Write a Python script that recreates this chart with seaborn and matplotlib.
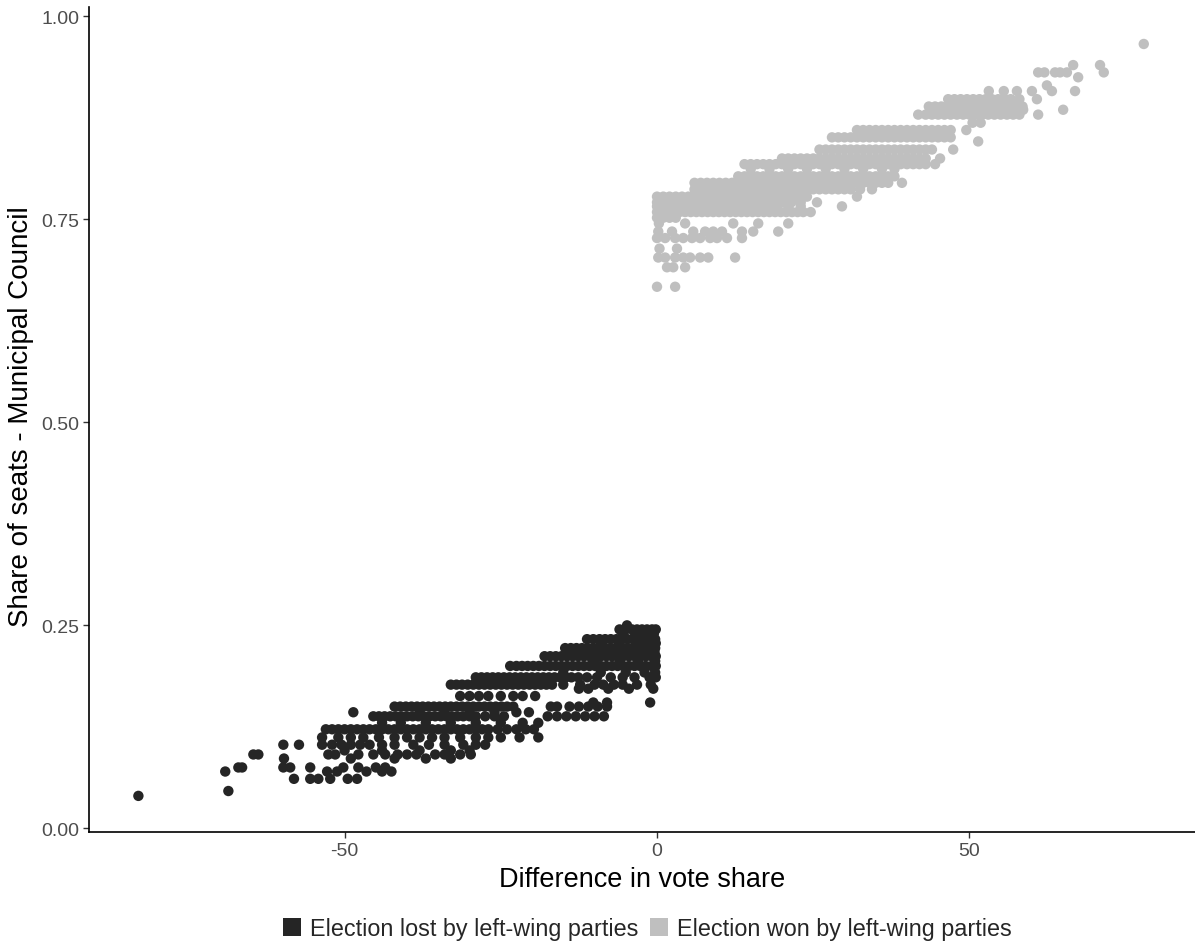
import matplotlib
matplotlib.use("Agg")
import matplotlib.pyplot as plt
import seaborn as sns
import pandas as pd
from matplotlib.patches import Patch

# ---------------- data ----------------
group_labels = ["Election lost by left-wing parties", "Election won by left-wing parties"]
group_colors = ["#252525", "#BFBFBF"]

# Lost elections: seat-share levels and the vote-share differences on each level
lost_levels = [0.250, 0.245, 0.240, 0.233, 0.228, 0.222, 0.217, 0.212, 0.206, 0.200,
               0.192, 0.186, 0.177, 0.172, 0.163, 0.155, 0.150, 0.143, 0.138, 0.130,
               0.122, 0.112, 0.103, 0.096, 0.091, 0.086, 0.075, 0.070, 0.061, 0.046, 0.040]
lost_xs = [
    [-4.8],
    [-6.0, -5.0, -4.0, -3.2, -2.4, -1.6, -0.8, -0.2],
    [-5.5, -3.5, -2.0, -0.5],
    [-11.2, -10.2, -9.2, -8.3, -7.4, -6.5, -5.6, -4.7, -3.8, -2.9, -2.0, -1.1, -0.3],
    [-9.0, -6.0, -3.0, -1.0, -0.2],
    [-14.7, -13.8, -12.9, -12.0, -11.1, -10.2, -9.3, -8.4, -7.5, -6.6, -5.7, -4.8, -3.9,
     -3.0, -2.1, -1.2, -0.3],
    [-8.0, -5.0, -2.5, -0.4],
    [-18.0, -17.1, -16.2, -15.3, -14.4, -13.5, -12.6, -11.7, -10.8, -9.9, -9.0, -8.1, -7.2,
     -6.3, -5.4, -4.5, -3.6, -2.7, -1.8, -0.9, -0.2],
    [-10.0, -6.0, -3.0, -0.3],
    [-23.5, -22.5, -21.6, -20.7, -19.8, -18.9, -18.0, -17.1, -16.2, -15.3, -14.4, -13.5,
     -12.6, -11.7, -10.8, -9.9, -9.0, -8.1, -7.2, -6.3, -5.4, -4.5, -3.6, -2.7, -1.8, -0.9, -0.2],
    [-15.0, -9.0, -5.0, -2.0, -0.3],
    [-29.0, -28.1, -27.2, -26.3, -25.4, -24.5, -23.6, -22.7, -21.8, -20.9, -20.0, -19.1,
     -18.2, -17.3, -16.4, -15.5, -14.6, -13.7, -12.6, -11.2, -9.6, -7.4, -5.5, -3.6, -1.2, -0.2],
    [-33.0, -32.1, -31.2, -30.3, -29.4, -28.5, -27.6, -26.7, -25.8, -24.9, -24.0, -23.1,
     -22.2, -21.3, -20.4, -19.5, -18.6, -17.7, -16.8, -15.0, -12.3, -10.0, -8.6, -6.9, -5.5,
     -3.2, -1.0],
    [-12.5, -11.0, -7.8, -4.5, -0.6],
    [-31.5, -30.0, -28.5, -27.0, -25.0, -23.0, -21.5, -19.5],
    [-10.2, -8.0, -1.1],
    [-42.0, -41.1, -40.2, -39.3, -38.4, -37.5, -36.6, -35.7, -34.8, -33.9, -33.0, -32.1,
     -31.2, -30.3, -29.4, -28.5, -27.6, -26.7, -25.8, -24.9, -24.0, -23.0, -17.0, -16.0,
     -14.0, -12.5, -11.0, -9.5, -8.0],
    [-48.6, -38.0, -34.0, -30.0, -26.0, -22.5, -20.5],
    [-45.4, -44.5, -43.6, -42.7, -41.8, -40.9, -40.0, -39.1, -38.2, -37.3, -36.4, -35.5,
     -34.6, -33.7, -32.8, -31.9, -31.0, -30.0, -29.0, -27.5, -26.0, -24.5, -17.5, -16.0,
     -14.5, -13.0, -11.5, -10.0, -8.5],
    [-44.0, -41.0, -37.0, -33.0, -29.0, -25.0, -21.5, -19.0],
    [-53.0, -52.0, -51.0, -50.0, -49.0, -48.0, -47.0, -46.0, -45.0, -44.0, -43.0, -42.0,
     -41.0, -40.0, -39.0, -38.0, -37.0, -36.0, -35.0, -34.0, -33.0, -32.0, -31.0, -30.0,
     -29.0, -28.0, -27.0, -25.5, -24.0, -22.5, -21.0, -19.7],
    [-53.6, -51.0, -49.0, -47.0, -44.5, -42.0, -40.0, -38.0, -36.0, -34.0, -31.5, -29.0,
     -27.0, -25.0, -22.0, -19.0],
    [-59.8, -57.3, -53.6, -52.0, -50.5, -49.0, -47.5, -46.0, -44.0, -42.0, -39.0, -36.5,
     -34.0, -31.0, -29.0, -27.5],
    [-50.0, -44.0, -38.0, -33.0, -30.0],
    [-64.6, -63.8, -52.6, -51.5, -47.8, -45.4, -43.5, -41.5, -40.0, -38.5, -35.5, -34.0,
     -31.5, -29.8],
    [-59.7, -49.0, -42.0, -37.0, -33.0],
    [-67.0, -66.4, -59.8, -58.7, -55.5, -50.2, -47.8, -45.0, -43.5],
    [-69.1, -52.8, -51.2, -46.5, -44.0, -42.5],
    [-58.1, -55.5, -54.2, -52.3, -49.5, -48.0],
    [-68.6],
    [-83.0],
]

# Won elections: seat-share levels and the vote-share differences on each level
won_levels = [0.667, 0.691, 0.703, 0.714, 0.727, 0.735, 0.745, 0.752, 0.759, 0.766,
              0.771, 0.778, 0.787, 0.795, 0.803, 0.812, 0.818, 0.825, 0.836, 0.846,
              0.851, 0.860, 0.869, 0.879, 0.885, 0.889, 0.898, 0.908, 0.915, 0.925,
              0.931, 0.940, 0.966]
won_xs = [
    [0.0, 2.9],
    [1.6, 2.6, 4.5],
    [0.2, 1.3, 2.9, 4.2, 5.3, 6.9, 8.2, 12.5],
    [0.4, 3.2],
    [0.0, 1.3, 2.9, 4.2, 5.6, 6.9, 8.5, 9.6, 11.2, 13.6],
    [0.2, 2.4, 5.8, 7.7, 9.0, 10.4, 13.6, 15.4, 19.4],
    [0.3, 4.5, 12.2, 16.2, 21.0],
    [0.0, 1.0, 2.0, 3.0],
    [0.0, 0.9, 1.8, 2.7, 3.6, 4.5, 5.4, 6.3, 7.2, 8.1, 9.0, 9.9, 10.8, 11.7, 12.6, 13.5,
     14.4, 15.3, 16.2, 17.1, 18.0, 18.9, 19.8, 20.7, 21.6, 22.5, 23.4, 24.6],
    [0.0, 1.0, 2.0, 3.0, 4.0, 5.0, 6.0, 7.0, 8.0, 9.0, 10.0, 11.0, 12.0, 13.0, 14.0, 15.0,
     16.0, 17.5, 19.0, 21.0, 23.0, 29.6],
    [0.0, 1.0, 2.0, 3.0, 4.0, 5.0, 6.0, 7.0, 8.0, 9.0, 10.0, 11.0, 12.0, 13.0, 14.0, 15.0,
     16.0, 17.0, 18.0, 19.0, 20.0, 21.5, 23.0, 25.6],
    [0.0, 1.0, 2.0, 3.0, 4.0, 5.0, 6.0, 7.0, 8.0, 9.0, 10.0, 11.0, 12.0, 13.0, 14.0, 15.0,
     16.0, 17.0, 18.0, 19.0, 20.0, 21.0, 22.0, 23.0, 24.0, 32.0],
    [6.0, 7.0, 8.0, 9.0, 10.0, 11.0, 12.0, 13.0, 14.0, 15.0, 16.0, 17.0, 18.0, 19.0, 20.0,
     21.0, 22.0, 23.0, 24.0, 25.0, 26.0, 27.0, 28.0, 29.0, 30.0, 31.0, 32.5, 34.4],
    [6.0, 7.0, 8.0, 9.0, 10.0, 11.0, 12.0, 13.0, 14.0, 15.0, 16.0, 17.0, 18.0, 19.0, 20.0,
     21.0, 22.0, 23.0, 24.0, 25.0, 26.0, 27.0, 28.0, 29.0, 30.0, 31.0, 32.0, 33.0, 34.0,
     35.0, 36.0, 37.0, 39.2],
    [13.0, 14.0, 15.0, 16.0, 17.0, 18.0, 19.0, 20.0, 21.0, 22.0, 23.0, 24.0, 25.0, 26.0,
     27.0, 28.0, 29.0, 30.0, 31.0, 32.0, 33.0, 34.0, 35.0, 36.0, 37.0, 38.0],
    [15.0, 18.0, 21.0, 24.0, 27.0, 30.0, 33.0, 36.0, 38.0],
    [14.0, 15.0, 16.0, 17.0, 18.0, 19.0, 20.0, 21.0, 22.0, 23.0, 24.0, 25.0, 26.0, 27.0,
     28.0, 29.0, 30.0, 31.0, 32.0, 33.0, 34.0, 35.0, 36.0, 37.0, 38.0, 39.0, 40.0, 41.0,
     42.0, 43.0, 44.5],
    [20.0, 21.0, 22.0, 23.0, 24.0, 25.0, 26.0, 27.0, 28.0, 29.0, 30.0, 31.0, 32.0, 33.0,
     34.0, 35.0, 36.0, 37.0, 38.0, 39.0, 40.0, 41.0, 42.0, 43.0, 45.3],
    [26.0, 27.0, 28.0, 29.0, 30.0, 31.0, 32.0, 33.0, 34.0, 35.0, 36.0, 37.0, 38.0, 39.0,
     40.0, 41.0, 42.0, 43.0, 44.0, 47.4],
    [51.4],
    [28.0, 29.0, 30.0, 31.0, 32.0, 33.0, 34.0, 35.0, 36.0, 37.0, 38.0, 39.0, 40.0, 41.0,
     42.0, 43.0, 44.0, 45.0, 46.0, 47.0],
    [32.0, 33.0, 34.0, 35.0, 36.0, 37.0, 38.0, 39.0, 40.0, 41.0, 42.0, 43.0, 44.0, 45.0,
     46.0, 47.0, 49.5],
    [50.5, 51.8],
    [41.8, 43.0, 44.0, 45.0, 46.0, 47.0, 48.0, 49.0, 50.0, 51.0, 52.0, 53.0, 54.0, 55.0,
     56.0, 57.0, 58.0, 61.0],
    [58.6, 65.0],
    [43.5, 44.5, 45.5, 46.5, 47.5, 48.5, 49.5, 50.5, 51.5, 52.5, 53.5, 54.5, 55.5, 56.5,
     57.5, 58.5],
    [46.6, 47.6, 48.6, 49.6, 50.6, 51.6, 52.6, 53.6, 54.6, 55.6, 56.6, 58.0, 60.8],
    [53.1, 55.5, 57.6, 60.0, 63.2, 66.9],
    [62.4],
    [67.4],
    [61.0, 62.0, 63.7, 64.5, 65.6, 71.5],
    [66.6, 70.9],
    [77.9],
]

x_ticks = [-50, 0, 50]
y_ticks = [0.00, 0.25, 0.50, 0.75, 1.00]

# ---------------- build table ----------------
rows = []
for lvl, xs in zip(lost_levels, lost_xs):
    for x in xs:
        rows.append((x, lvl, group_labels[0]))
for lvl, xs in zip(won_levels, won_xs):
    for x in xs:
        rows.append((x, lvl, group_labels[1]))
df = pd.DataFrame(rows, columns=["diff", "share", "group"])

# ---------------- plot ----------------
sns.set_theme(style="ticks")
plt.rcParams["font.family"] = ["Liberation Sans", "DejaVu Sans"]

fig = plt.figure(figsize=(11.95, 9.45), dpi=100)
ax = fig.add_axes([0.0745, 0.1185, 0.9255, 0.873])

sns.scatterplot(data=df, x="diff", y="share", hue="group",
                hue_order=group_labels, palette=group_colors,
                s=56, linewidth=0, alpha=1.0, legend=False, ax=ax)

ax.set_xlim(-90.9, 86.1)
ax.set_ylim(-0.0045, 1.0115)
ax.set_xticks(x_ticks)
ax.set_xticklabels([str(t) for t in x_ticks])
ax.set_yticks(y_ticks)
ax.set_yticklabels([f"{t:.2f}" for t in y_ticks])

for side in ["top", "right"]:
    ax.spines[side].set_visible(False)
for side in ["left", "bottom"]:
    ax.spines[side].set_color("black")
    ax.spines[side].set_linewidth(1.2)

ax.tick_params(axis="both", colors="#333333", labelcolor="#4D4D4D",
               labelsize=14, length=4, width=1.0, pad=3)

ax.set_xlabel("Difference in vote share", fontsize=19.5, color="black", labelpad=5)
ax.set_ylabel("Share of seats - Municipal Council", fontsize=20, color="black")
ax.yaxis.set_label_coords(-0.050, 0.505)

handles = [Patch(facecolor=c, edgecolor="none", label=l)
           for c, l in zip(group_colors, group_labels)]
fig.legend(handles=handles, loc="center", bbox_to_anchor=(0.542, 0.0165),
           ncol=2, frameon=False, fontsize=16.8,
           handlelength=0.75, handleheight=0.8, handletextpad=0.4,
           columnspacing=0.5, borderaxespad=0)

fig.savefig("out.png", dpi=100)
